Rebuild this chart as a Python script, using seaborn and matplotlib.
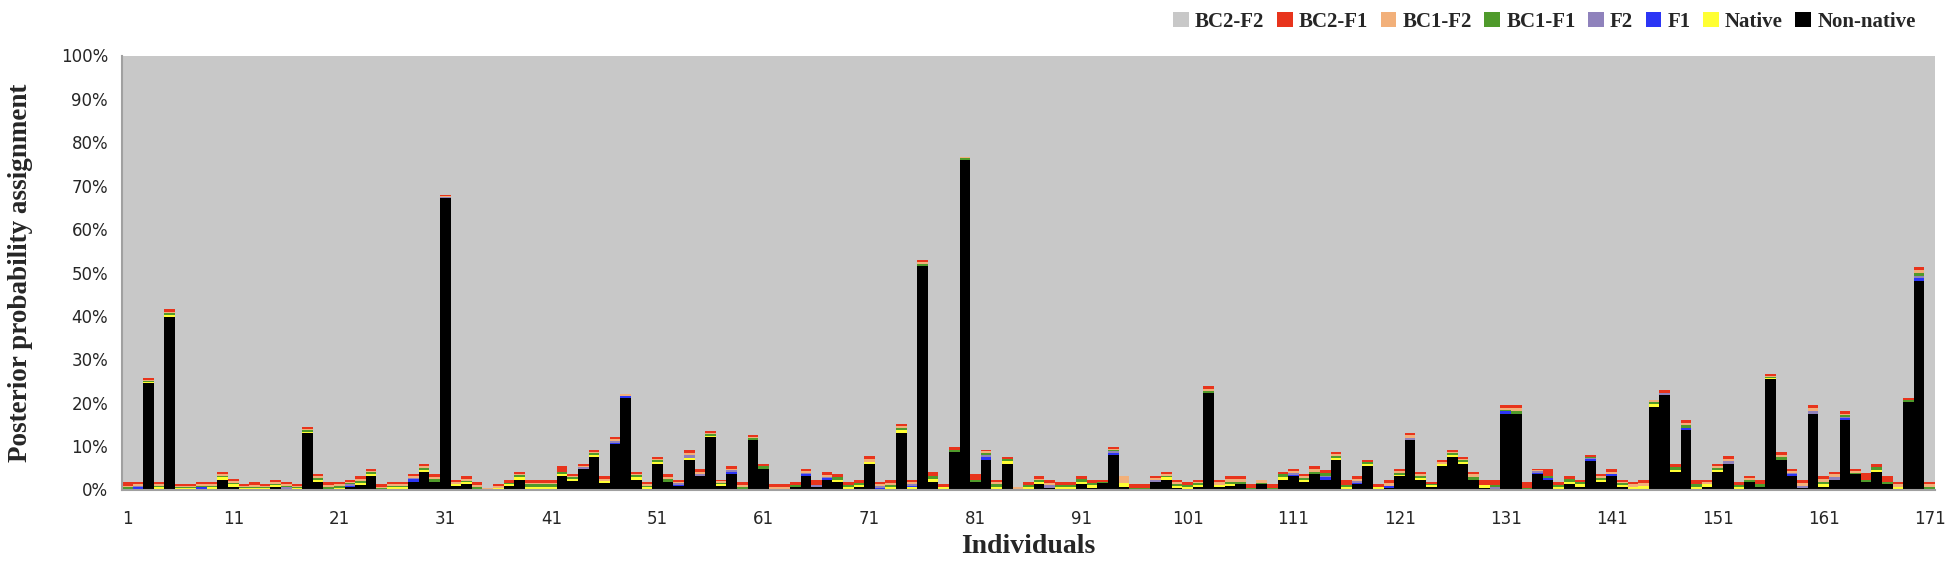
import numpy as np
import pandas as pd
import matplotlib
matplotlib.use("Agg")
import matplotlib.pyplot as plt
from matplotlib.patches import Patch
from matplotlib.ticker import FixedLocator
import seaborn as sns

# Posterior probability (%) per individual
individuals = list(range(1, 172))

non_native = [
    0.1, 0, 24.5, 0, 39.8, 0, 0, 0, 0, 2.3,
    0.6, 0, 0, 0, 0.5, 0, 0, 13.1, 1.8, 0,
    0, 0.5, 1.0, 3.0, 0, 0, 0, 1.8, 4.0, 1.8,
    67.1, 0.7, 1.2, 0, 0, 0, 0.7, 2.3, 0, 0,
    0, 3.0, 2.0, 4.7, 7.5, 1.4, 10.4, 21.1, 2.3, 0,
    5.9, 1.8, 0.8, 6.9, 3.0, 12.0, 0.8, 3.5, 0, 11.3,
    4.7, 0, 0, 0.5, 3.0, 0.6, 2.2, 1.8, 0, 0.5,
    5.9, 0, 0, 13.1, 0, 51.4, 1.8, 0, 8.6, 75.9,
    1.8, 6.9, 0, 5.9, 0, 0, 1.2, 0.4, 0, 0,
    1.2, 0.4, 1.4, 8.0, 0.6, 0, 0, 1.8, 2.3, 0.4,
    0, 0.5, 22.3, 0.5, 0.7, 1.2, 0, 1.2, 0, 2.3,
    3.0, 1.8, 3.5, 2.3, 6.9, 0, 1.2, 5.3, 0, 0.4,
    3.0, 11.3, 2.3, 0.5, 5.3, 7.5, 5.9, 2.3, 0.4, 0,
    17.4, 17.4, 0, 3.5, 2.3, 0, 1.2, 0.6, 6.5, 1.8,
    3.0, 0.6, 0, 0, 19.1, 21.7, 4.1, 13.6, 0, 0.6,
    4.1, 5.9, 0, 1.8, 0.6, 25.5, 6.9, 3.0, 0.3, 17.4,
    0.6, 2.3, 16.0, 3.5, 1.8, 4.1, 1.2, 0, 20.2, 48.1,
    0,
]
native = [
    0.1, 0.1, 0.2, 0.5, 0.5, 0.4, 0.4, 0, 0.5, 0.5,
    0.6, 0.4, 0.3, 0.4, 0.6, 0.2, 0.4, 0.1, 0.5, 0,
    0.3, 0, 0.6, 0.5, 0, 0.5, 0.5, 0, 0.5, 0,
    0, 0.6, 0.6, 0, 0, 0.4, 0.5, 0.5, 0.6, 0.6,
    0.6, 0.5, 0.5, 0, 0.4, 0.6, 0, 0, 0.5, 0.5,
    0.5, 0, 0, 0.4, 0, 0.4, 0.4, 0, 0, 0.2,
    0, 0, 0, 0, 0, 0, 0, 0.5, 0.5, 0.5,
    0.5, 0, 0.6, 0.5, 0.6, 0, 0.7, 0.5, 0, 0,
    0, 0, 0.6, 0.6, 0, 0.5, 0.5, 0, 0.5, 0.5,
    0.6, 0.6, 0, 0, 0.8, 0, 0, 0, 0.5, 0.5,
    0.5, 0.5, 0, 0.6, 0.6, 0, 0, 0, 0, 0.6,
    0, 0.4, 0, 0, 0.4, 0.5, 0, 0.5, 0.5, 0,
    0.4, 0, 0.4, 0.5, 0.5, 0.4, 0.4, 0, 0.6, 0,
    0, 0, 0, 0, 0, 0.5, 0.6, 0.6, 0, 0.4,
    0, 0.4, 0.6, 0.8, 0.5, 0, 0.5, 0, 0.6, 0.6,
    0.5, 0, 0.5, 0, 0, 0.2, 0, 0, 0, 0,
    0.6, 0, 0, 0, 0, 0.5, 0, 0.6, 0, 0,
    0,
]
f1 = [
    0, 0.5, 0, 0, 0, 0, 0, 0.5, 0, 0,
    0, 0, 0, 0, 0, 0, 0, 0, 0, 0,
    0, 0.3, 0, 0, 0, 0, 0, 0.6, 0, 0,
    0, 0, 0, 0, 0, 0, 0, 0, 0, 0,
    0, 0, 0, 0, 0, 0, 0.2, 0.4, 0, 0,
    0, 0, 0.2, 0, 0, 0, 0, 0.5, 0, 0,
    0, 0, 0, 0, 0.5, 0, 0.5, 0, 0, 0,
    0, 0.3, 0, 0, 0.2, 0, 0, 0, 0, 0,
    0, 0.6, 0, 0, 0, 0, 0, 0, 0, 0,
    0, 0, 0, 0.4, 0, 0, 0, 0, 0, 0,
    0, 0, 0, 0, 0, 0, 0, 0, 0, 0,
    0.4, 0, 0, 0.6, 0, 0, 0.3, 0, 0, 0.5,
    0, 0, 0, 0, 0, 0, 0, 0, 0, 0,
    0.6, 0, 0, 0.4, 0.4, 0, 0, 0, 0.5, 0,
    0.5, 0, 0, 0, 0, 0, 0, 0.6, 0, 0,
    0, 0, 0, 0, 0, 0, 0, 0.5, 0, 0,
    0, 0, 0.4, 0, 0, 0, 0, 0, 0, 0.7,
    0,
]
f2 = [
    0, 0.1, 0, 0, 0, 0, 0, 0.1, 0, 0,
    0, 0, 0, 0, 0, 0.4, 0, 0, 0, 0,
    0, 0.5, 0, 0, 0, 0, 0, 0.3, 0, 0,
    0.4, 0, 0, 0, 0, 0, 0, 0, 0, 0,
    0, 0, 0, 0.5, 0, 0, 0.5, 0, 0, 0,
    0, 0, 0.4, 0.6, 0.6, 0, 0, 0.4, 0, 0,
    0, 0, 0, 0, 0.4, 0.4, 0.2, 0, 0, 0,
    0, 0.5, 0, 0, 0.5, 0, 0, 0, 0, 0,
    0, 0.5, 0, 0, 0, 0, 0, 0.6, 0, 0,
    0, 0, 0, 0.4, 0, 0, 0, 0.5, 0, 0,
    0, 0, 0, 0, 0, 0, 0, 0, 0, 0,
    0.3, 0, 0, 0.3, 0, 0, 0.4, 0, 0, 0,
    0, 0.6, 0, 0, 0, 0, 0, 0, 0, 0.5,
    0, 0, 0, 0.3, 0, 0, 0, 0, 0.3, 0,
    0, 0, 0, 0, 0, 0.5, 0, 0, 0, 0,
    0, 0.6, 0, 0, 0, 0, 0, 0.4, 0.6, 0.7,
    0, 0.6, 0.3, 0, 0, 0, 0, 0, 0, 0.5,
    0,
]
bc1_f1 = [
    0.3, 0.2, 0.4, 0.2, 0.3, 0.1, 0.1, 0.2, 0.2, 0.4,
    0.4, 0.1, 0.3, 0.1, 0.2, 0.3, 0.1, 0.4, 0.4, 0.5,
    0.4, 0.2, 0.3, 0.5, 0.4, 0.3, 0.3, 0, 0.5, 0.6,
    0, 0, 0.2, 0.6, 0, 0, 0.4, 0.5, 0.6, 0.6,
    0.6, 0.5, 0.4, 0, 0.4, 0, 0, 0, 0.5, 0.4,
    0.3, 0.6, 0, 0, 0, 0.4, 0.4, 0, 0.5, 0.3,
    0.6, 0.2, 0.2, 0.6, 0, 0, 0, 0.6, 0.6, 0.5,
    0, 0, 0.5, 0.5, 0, 0.5, 0.7, 0, 0.6, 0.4,
    0.5, 0.4, 0.6, 0.5, 0, 0.6, 0.4, 0, 0.6, 0.6,
    0.6, 0.6, 0.4, 0.3, 0, 0.4, 0.4, 0, 0.4, 0.4,
    0.6, 0.4, 0.4, 0, 0.5, 0.6, 0.4, 0.4, 0.4, 0.6,
    0, 0.4, 0.6, 0.5, 0.4, 0.6, 0, 0.5, 0, 0,
    0.4, 0, 0.5, 0.3, 0, 0.4, 0.4, 0.6, 0, 0.5,
    0.3, 0.8, 0.4, 0, 0.5, 0.6, 0.6, 0.5, 0.3, 0.4,
    0, 0.4, 0, 0, 0.5, 0, 0.6, 0.6, 0.6, 0,
    0.4, 0, 0.6, 0.4, 0.7, 0.3, 0.6, 0, 0, 0,
    0.6, 0, 0.4, 0.4, 0.5, 0.6, 0.5, 0, 0.4, 0.6,
    0.6,
]
bc1_f2 = [
    0.2, 0.4, 0.2, 0.5, 0.4, 0.3, 0.3, 0.4, 0.5, 0.4,
    0.3, 0.3, 0.5, 0.3, 0.5, 0.4, 0.3, 0.3, 0.3, 0.5,
    0.5, 0.3, 0.5, 0.3, 0.2, 0.4, 0.4, 0.4, 0.4, 0.5,
    0.1, 0.5, 0.4, 0.5, 0.3, 0.3, 0, 0.3, 0.4, 0.4,
    0.4, 0, 0.2, 0.2, 0.4, 0.5, 0.5, 0.6, 0.3, 0.3,
    0.3, 0.5, 0.4, 0.6, 0.5, 0.3, 0.3, 0.4, 0.5, 0.3,
    0, 0.4, 0.4, 0, 0.4, 0, 0.5, 0, 0, 0,
    0.6, 0.4, 0.5, 0.5, 0.4, 0.5, 0, 0, 0, 0.4,
    0, 0.4, 0.5, 0, 0.5, 0, 0.4, 0.6, 0, 0,
    0, 0, 0, 0.3, 1.7, 0, 0, 0.4, 0.4, 0.4,
    0, 0.4, 0.5, 0.6, 0.6, 0.6, 0, 0.7, 0, 0,
    0.5, 0.4, 0.6, 0, 0.4, 0, 0.5, 0, 0, 0.6,
    0.4, 0.6, 0.4, 0, 0.5, 0.4, 0.4, 0.6, 0, 0,
    0.5, 0.6, 0, 0.2, 0, 0, 0, 0, 0, 0.4,
    0.6, 0.4, 0.6, 0.7, 0.6, 0, 0, 0.6, 0, 0.5,
    0.4, 0.6, 0, 0.4, 0, 0.2, 0.5, 0.4, 0.6, 0.7,
    0.6, 0.6, 0.3, 0.4, 0, 0, 0, 0.6, 0, 0.6,
    0.6,
]
bc2_f1 = [
    1.1, 0.5, 0.3, 0.6, 0.6, 0.5, 0.5, 0.6, 0.6, 0.5,
    0.5, 0.5, 0.7, 0.5, 0.5, 0.5, 0.5, 0.4, 0.5, 0.8,
    0.6, 0.5, 0.6, 0.4, 0.6, 0.6, 0.6, 0.5, 0.5, 0.6,
    0.2, 0.5, 0.6, 0.7, 0, 0.5, 0.7, 0.5, 0.7, 0.7,
    0.7, 1.3, 0.4, 0.5, 0.4, 0.5, 0.5, 0, 0.5, 0.6,
    0.5, 0.6, 0.5, 0.7, 0.6, 0.4, 0.4, 0.5, 0.8, 0.4,
    0.6, 0.6, 0.6, 0.7, 0.4, 1.3, 0.7, 0.7, 0.7, 0.8,
    0.7, 0.6, 0.7, 0.6, 0.6, 0.5, 0.9, 0.7, 0.6, 0,
    1.2, 0.4, 0.6, 0.5, 0, 0.7, 0.5, 0.7, 0.7, 0.7,
    0.6, 0.7, 0.5, 0.4, 0, 0.8, 0.8, 0.4, 0.5, 0.6,
    0.7, 0.5, 0.6, 0.6, 0.6, 0.6, 0.8, 0, 0.8, 0.6,
    0.5, 0.5, 0.6, 0.8, 0.5, 1.2, 0.6, 0.6, 0.7, 0.8,
    0.5, 0.6, 0.5, 0.5, 0.6, 0.5, 0.4, 0.6, 1.3, 1.3,
    0.6, 0.6, 1.4, 0.3, 1.5, 0.7, 0.6, 0.6, 0.4, 0.5,
    0.6, 0.5, 0.6, 0.8, 0, 0.7, 0.7, 0.7, 1.1, 0.6,
    0.5, 0.6, 0.7, 0.4, 1.0, 0.3, 0.6, 0.4, 0.8, 0.6,
    0.6, 0.6, 0.8, 0.4, 1.4, 0.7, 1.3, 0.6, 0.4, 0.7,
    0.6,
]

# probabilities sum to 100 %, BC2-F2 is what is left
lower = np.array([non_native, native, f1, f2, bc1_f1, bc1_f2, bc2_f1])
bc2_f2 = 100 - lower.sum(axis=0)

classes = ["Non-native", "Native", "F1", "F2", "BC1-F1", "BC1-F2", "BC2-F1", "BC2-F2"]
colors = ["#000000", "#FFFF33", "#2B35F5", "#8F82BC", "#4F9A2B", "#F2B07A", "#E8341C", "#C8C8C8"]

stack = np.vstack([lower, bc2_f2])
cum = np.cumsum(stack, axis=0)

df = pd.DataFrame(cum.T, columns=classes)
df["Individual"] = [str(i) for i in individuals]

sns.set_style("white")
plt.rcParams["font.family"] = ["DejaVu Sans"]

fig = plt.figure(figsize=(19.5, 5.76), dpi=100)
ax = fig.add_axes([122 / 1950, 1 - 489.5 / 576, (1935 - 122) / 1950, (489.5 - 55.5) / 576])

# overlay cumulative totals, tallest first
for name, col in reversed(list(zip(classes, colors))):
    sns.barplot(data=df, x="Individual", y=name, color=col, saturation=1,
                width=1.0, linewidth=0, ax=ax, order=df["Individual"])

ax.set_xlim(-0.5, len(individuals) - 0.5)
ax.set_ylim(0, 100)
ax.set_yticks(range(0, 101, 10))
ax.set_yticklabels([f"{v}%" for v in range(0, 101, 10)], fontsize=12)

major = [i - 1 for i in individuals if (i - 1) % 10 == 0]
ax.set_xticks(major)
ax.set_xticklabels([str(individuals[i]) for i in major], fontsize=12)
ax.xaxis.set_minor_locator(FixedLocator(np.arange(-0.5, len(individuals), 1)))
ax.tick_params(axis="x", which="major", length=0, pad=15)
ax.tick_params(axis="x", which="minor", length=6, width=1.2, color="#A0A0A0", direction="out")
ax.tick_params(axis="y", which="major", length=6, width=1.2, color="#A0A0A0", direction="out", pad=4)

for s in ["top", "right"]:
    ax.spines[s].set_visible(False)
for s in ["left", "bottom"]:
    ax.spines[s].set_color("#A0A0A0")
    ax.spines[s].set_linewidth(1.5)

serif = dict(family="Liberation Serif", weight="bold")
ax.set_ylabel("Posterior probability assignment", fontsize=19.5, labelpad=20, **serif)
ax.set_xlabel("Individuals", fontsize=20, labelpad=4, **serif)

handles = [Patch(facecolor=c, edgecolor="none", label=n)
           for n, c in reversed(list(zip(classes, colors)))]
fig.legend(handles=handles, loc="upper right", bbox_to_anchor=(0.992, 1.012), ncol=8,
           frameon=False, handlelength=0.75, handleheight=0.75, handletextpad=0.3,
           columnspacing=0.6, prop=dict(family="Liberation Serif", weight="bold", size=15))

fig.savefig("out.png", dpi=100)
